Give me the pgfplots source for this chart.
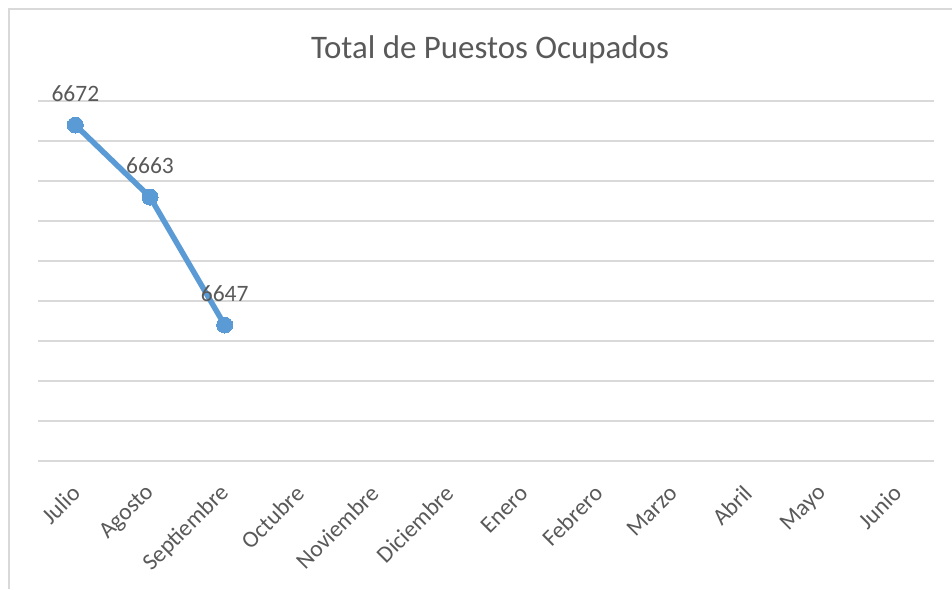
\documentclass[border=0pt]{standalone}
\usepackage{fontspec}
\setmainfont{Carlito}
\usepackage{pgfplots}
\pgfplotsset{compat=1.18}
\definecolor{serie}{HTML}{5B9BD5}
\definecolor{rejilla}{HTML}{D9D9D9}
\definecolor{texto}{HTML}{595959}

\begin{document}
\begin{tikzpicture}
\path[use as bounding box] (0,0) rectangle (952pt,589pt);
% marco del grafico
\draw[rejilla, line width=1.5pt] (9pt,0pt) -- (9pt,580pt) -- (952pt,580pt);
\node[texto, font=\fontsize{32.9}{38}\selectfont, anchor=base] at (490pt,530pt) {Total de Puestos Ocupados};

\begin{axis}[
    at={(38pt,128pt)}, anchor=south west,
    scale only axis, width=896pt, height=360pt,
    xmin=-0.5, xmax=11.5,
    ymin=6630, ymax=6675,
    xtick={0,...,11},
    xticklabels={Julio,Agosto,Septiembre,Octubre,Noviembre,Diciembre,Enero,Febrero,Marzo,Abril,Mayo,Junio},
    ytick={6630,6635,...,6675},
    yticklabels={},
    ymajorgrids,
    grid style={rejilla, line width=1.3pt},
    axis line style={draw=none},
    major tick length=0pt,
    tick label style={texto, font=\fontsize{23.5}{28}\selectfont},
    xticklabel style={xshift=3pt, yshift=-26pt, rotate=45, anchor=east},
    clip=false,
    nodes near coords={\pgfmathprintnumber[assume math mode=true,1000 sep={}]{\pgfplotspointmeta}},
    every node near coord/.append style={texto, font=\fontsize{23.5}{28}\selectfont, anchor=south, yshift=20pt},
]

% Total de puestos ocupados
\addplot[
    serie,
    line width=5.5pt,
    mark=*,
    mark size=8pt,
    mark options={fill=serie, draw=serie, line width=0pt}
] coordinates {
    (0,6672)
    (1,6663)
    (2,6647)
};

\end{axis}
\end{tikzpicture}
\end{document}
